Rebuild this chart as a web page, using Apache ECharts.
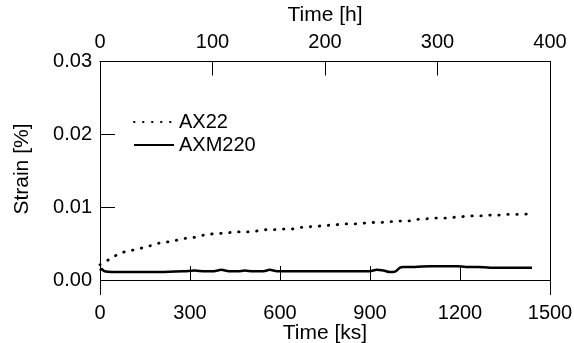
<!DOCTYPE html>
<html>
<head>
<meta charset="utf-8">
<script src="https://cdn.jsdelivr.net/npm/echarts@6/dist/echarts.min.js"></script>
<style>html,body{margin:0;padding:0;background:#fff;}#c{width:574px;height:343px;}</style>
</head>
<body>
<div id="c"></div>
<script>
// Data
var ax22Time = [0, 38, 68, 99, 129, 160, 191, 221, 249, 280, 308, 338, 368, 399, 427, 458, 488, 518, 549, 577, 608, 638, 667, 697, 728, 756, 787, 817, 847, 876, 906, 936, 967, 994, 1026, 1056, 1087, 1117, 1147, 1176, 1206, 1237, 1267, 1297, 1326, 1358, 1390, 1440];
var ax22Strain = [0.0021, 0.0030, 0.0037, 0.0040, 0.0043, 0.0046, 0.0050, 0.0052, 0.0054, 0.0057, 0.0058, 0.0061, 0.0063, 0.0064, 0.0065, 0.0066, 0.0066, 0.0067, 0.0069, 0.0069, 0.0070, 0.0070, 0.0072, 0.0073, 0.0074, 0.0075, 0.0076, 0.0077, 0.0077, 0.0078, 0.0079, 0.0079, 0.0080, 0.0081, 0.0081, 0.0083, 0.0084, 0.0085, 0.0085, 0.0086, 0.0087, 0.0088, 0.0088, 0.0089, 0.0089, 0.0090, 0.0090, 0.0091];
var axm220Time = [0, 5, 15, 40, 100, 200, 280, 315, 350, 380, 404, 430, 460, 482, 510, 545, 566, 590, 650, 750, 850, 900, 922, 945, 967, 985, 1000, 1010, 1050, 1100, 1150, 1190, 1220, 1260, 1300, 1350, 1400, 1440];
var axm220Strain = [0.0013, 0.0015, 0.0012, 0.0011, 0.0011, 0.0011, 0.0012, 0.0013, 0.0012, 0.0012, 0.0014, 0.0012, 0.0012, 0.0013, 0.0012, 0.0012, 0.0014, 0.0012, 0.0012, 0.0012, 0.0012, 0.0012, 0.0014, 0.0013, 0.0011, 0.0012, 0.0017, 0.0018, 0.0018, 0.0019, 0.0019, 0.0019, 0.0018, 0.0018, 0.0017, 0.0017, 0.0017, 0.0017];
var strainTicks = [0, 0.01, 0.02, 0.03];
var seriesNames = ['AX22', 'AXM220'];

function pairs(xs, ys) { return xs.map(function (x, i) { return [x, ys[i]]; }); }

var FONT = 'Liberation Sans, Arial, sans-serif';
var tickTxt = { color: '#000', fontFamily: FONT, fontSize: 20 };
var nameTxt = { color: '#000', fontFamily: FONT, fontSize: 21 };
var chart = echarts.init(document.getElementById('c'), null, { renderer: 'canvas' });
chart.setOption({
  animation: false,
  backgroundColor: '#fff',
  textStyle: { fontFamily: FONT, color: '#000' },
  grid: { left: 100, right: 24, top: 61.5, bottom: 48.4, containLabel: false, outerBoundsMode: 'none' },
  legend: {
    orient: 'vertical', left: 128, top: 107, itemWidth: 40, itemHeight: 14, itemGap: 3,
    itemStyle: { opacity: 0, borderWidth: 0 },
    textStyle: { color: '#000', fontFamily: FONT, fontSize: 20, lineHeight: 20 },
    data: seriesNames
  },
  xAxis: [
    {
      type: 'value', position: 'bottom', min: 0, max: 1500, interval: 300,
      name: 'Time [ks]', nameLocation: 'middle', nameGap: 28, nameMoveOverlap: false, nameTextStyle: nameTxt,
      axisLine: { show: false },
      axisTick: { show: true, inside: true, length: 14, lineStyle: { color: '#000', width: 1 } },
      axisLabel: Object.assign({ margin: 9, formatter: function (v) { return String(v); } }, tickTxt),
      splitLine: { show: false }
    },
    {
      type: 'value', position: 'top', min: 0, max: 400, interval: 100,
      name: 'Time [h]', nameLocation: 'middle', nameGap: 36, nameMoveOverlap: false, nameTextStyle: nameTxt,
      axisLine: { show: true, onZero: false, lineStyle: { color: '#000', width: 1 } },
      axisTick: { show: true, inside: true, length: 14, lineStyle: { color: '#000', width: 1 } },
      axisLabel: Object.assign({ margin: 9, formatter: function (v) { return String(v); } }, tickTxt),
      splitLine: { show: false }
    }
  ],
  yAxis: [
    {
      type: 'value', position: 'left', min: -0.002, max: 0.03,
      name: 'Strain [%]', nameLocation: 'middle', nameGap: 67, nameMoveOverlap: false,
      nameTextStyle: Object.assign({ padding: [0, 0, 0, 18] }, nameTxt),
      axisLine: { show: true, onZero: false, lineStyle: { color: '#000', width: 1 } },
      axisTick: { show: true, inside: true, length: 15, customValues: strainTicks, lineStyle: { color: '#000', width: 1 } },
      axisLabel: Object.assign({ margin: 8, customValues: strainTicks, formatter: function (v) { return v.toFixed(2); } }, tickTxt),
      splitLine: { show: false }
    },
    {
      type: 'value', position: 'right', min: -0.002, max: 0.03,
      axisLine: { show: true, onZero: false, lineStyle: { color: '#000', width: 1 } },
      axisTick: { show: false }, axisLabel: { show: false }, splitLine: { show: false }
    }
  ],
  series: [
    {
      name: seriesNames[0], type: 'line', xAxisIndex: 0, yAxisIndex: 0,
      data: pairs(ax22Time, ax22Strain), symbol: 'none', smooth: 0.3,
      lineStyle: { color: '#000', width: 2.8, type: [0.5, 8.5], cap: 'round' },
      itemStyle: { color: '#000' }
    },
    {
      name: seriesNames[1], type: 'line', xAxisIndex: 0, yAxisIndex: 0,
      data: pairs(axm220Time, axm220Strain), symbol: 'none', smooth: 0.3,
      lineStyle: { color: '#000', width: 2.5, type: 'solid' },
      itemStyle: { color: '#000' },
      markLine: {
        silent: true, symbol: ['none', 'none'], label: { show: false },
        lineStyle: { color: '#000', width: 1, type: 'solid' },
        data: [{ yAxis: 0 }]
      }
    }
  ]
});
</script>
</body>
</html>
